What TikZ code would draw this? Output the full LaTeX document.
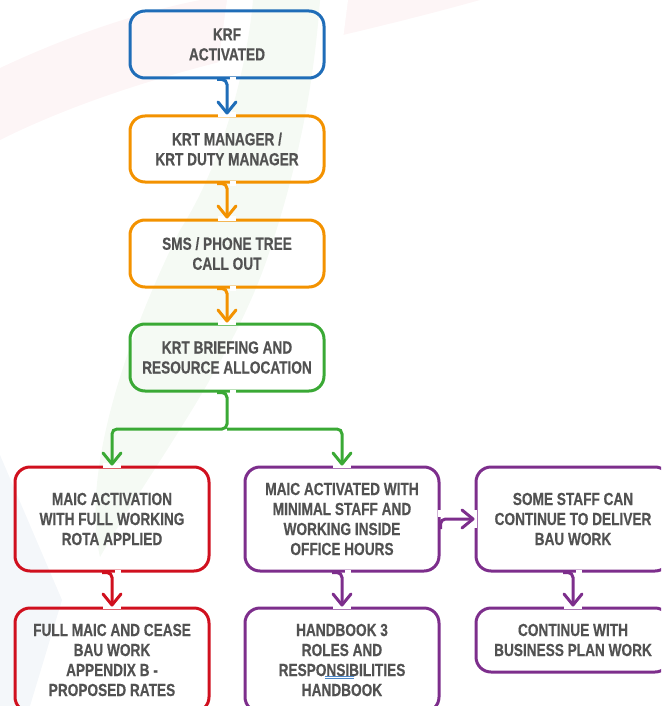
\documentclass[tikz,border=0pt]{standalone}
\usepackage{fontspec}
\usetikzlibrary{arrows.meta}
\newfontfamily\boxfont{Liberation Sans}[FakeStretch=0.78, BoldFeatures={FakeBold=0.5}]

\definecolor{kblue}{HTML}{1F6DB8}
\definecolor{korange}{HTML}{F39200}
\definecolor{kgreen}{HTML}{3AA935}
\definecolor{kred}{HTML}{D0101E}
\definecolor{kpurple}{HTML}{7D2E8C}
\definecolor{ktext}{HTML}{525252}
\definecolor{bgpink}{HTML}{FDF5F6}
\definecolor{bggreen}{HTML}{F5FAF4}
\definecolor{bgblue}{HTML}{F4F7FA}
\definecolor{markblue}{HTML}{4A86C8}

\tikzset{
  stepbox/.style={draw, line width=3pt, rounded corners=15pt,
    minimum width=194pt, align=center, text=ktext, inner sep=0pt,
    font=\boxfont\bfseries\fontsize{17.5}{20}\selectfont},
  conn/.style={line width=3pt, rounded corners=5pt,
    -{Straight Barb[length=11pt, width=18pt, round]}},
  gap/.style={draw=white, line width=4.5pt},
}

\begin{document}
\begin{tikzpicture}[x=1pt, y=-1pt]
\path[use as bounding box, clip] (0,0) rectangle (661,706);

% faded background emblem
\fill[bgpink] (0,68) .. controls (70,35) and (140,12) .. (200,0) -- (480,0)
  .. controls (430,14) and (385,25) .. (343,35)
  .. controls (250,52) and (110,85) .. (0,140) -- cycle;
\fill[white] (227,0) -- (348,0) -- (334,110) -- (212,110) -- cycle;
\fill[bggreen] (253,0) -- (320,0) .. controls (314,80) and (300,160) .. (270,250)
  .. controls (235,360) and (150,470) .. (100,557)
  .. controls (80,470) and (130,330) .. (180,230)
  .. controls (225,160) and (248,60) .. (253,0) -- cycle;
\fill[bggreen] (0,622) -- (28,706) -- (0,706) -- cycle;
\fill[bgblue] (0,455) -- (62,600) -- (30,706) -- (0,706) -- cycle;

% boxes
\node[stepbox, draw=kblue,    minimum height=67pt]  (krf)   at (227,44.5)  {KRF\\ACTIVATED};
\node[stepbox, draw=korange,  minimum height=66pt]  (mgr)   at (227,149)   {KRT MANAGER /\\KRT DUTY MANAGER};
\node[stepbox, draw=korange,  minimum height=67pt]  (sms)   at (227,253.5) {SMS / PHONE TREE\\CALL OUT};
\node[stepbox, draw=kgreen,   minimum height=67pt]  (brief) at (227,357.5) {KRT BRIEFING AND\\RESOURCE ALLOCATION};
\node[stepbox, draw=kred,     minimum height=104pt] (maicA) at (112,519)   {MAIC ACTIVATION\\WITH FULL WORKING\\ROTA APPLIED};
\node[stepbox, draw=kpurple,  minimum height=104pt] (maicB) at (342,519)   {MAIC ACTIVATED WITH\\MINIMAL STAFF AND\\WORKING INSIDE\\OFFICE HOURS};
\node[stepbox, draw=kpurple,  minimum height=104pt] (staff) at (573,519)   {SOME STAFF CAN\\CONTINUE TO DELIVER\\BAU WORK};
\node[stepbox, draw=kred,     minimum height=104pt] (full)  at (112,660)   {FULL MAIC AND CEASE\\BAU WORK\\APPENDIX B -\\PROPOSED RATES};
\node[stepbox, draw=kpurple,  minimum height=104pt] (hb)    at (342,660)   {HANDBOOK 3\\ROLES AND\\RESPONSIBILITIES\\HANDBOOK};
\node[stepbox, draw=kpurple,  minimum height=64pt]  (cont)  at (573,640)   {CONTINUE WITH\\BUSINESS PLAN WORK};

% proofing mark under the middle of RESPONSIBILITIES
\draw[markblue, line width=0.8pt] (325,676) -- (354,676);
\draw[markblue, line width=0.8pt] (325,678.5) -- (354,678.5);

% openings in the borders where connectors join
\foreach \n in {krf,mgr,sms,brief,maicA,maicB,staff}
  \draw[gap] ([xshift=2.5pt]\n.south) -- ([xshift=9pt]\n.south);
\foreach \n in {mgr,sms,brief,maicA,maicB,full,hb,cont}
  \draw[gap] ([xshift=-9pt]\n.north) -- ([xshift=9pt]\n.north);
\draw[gap] ([yshift=2.5pt]maicB.east) -- ([yshift=9pt]maicB.east);
\draw[gap] ([yshift=-9pt]staff.west) -- ([yshift=9pt]staff.west);

% connectors
\coordinate (split) at (227,429);
\draw[conn, kblue]   ([xshift=-10pt]krf.south) -- (krf.south) -- (mgr.north);
\draw[conn, korange] ([xshift=-10pt]mgr.south) -- (mgr.south) -- (sms.north);
\draw[conn, korange] ([xshift=-10pt]sms.south) -- (sms.south) -- (brief.north);
\draw[conn, kgreen]  ([xshift=-10pt]brief.south) -- (brief.south) -- (split) -| (maicA.north);
\draw[conn, kgreen]  (split) -| (maicB.north);
\draw[conn, kred]    ([xshift=-10pt]maicA.south) -- (maicA.south) -- (full.north);
\draw[conn, kpurple] ([xshift=-10pt]maicB.south) -- (maicB.south) -- (hb.north);
\draw[conn, kpurple] ([xshift=-10pt]staff.south) -- (staff.south) -- (cont.north);
\draw[conn, kpurple] ([yshift=-10pt]maicB.east) -- (maicB.east) -- (staff.west);
\end{tikzpicture}
\end{document}
